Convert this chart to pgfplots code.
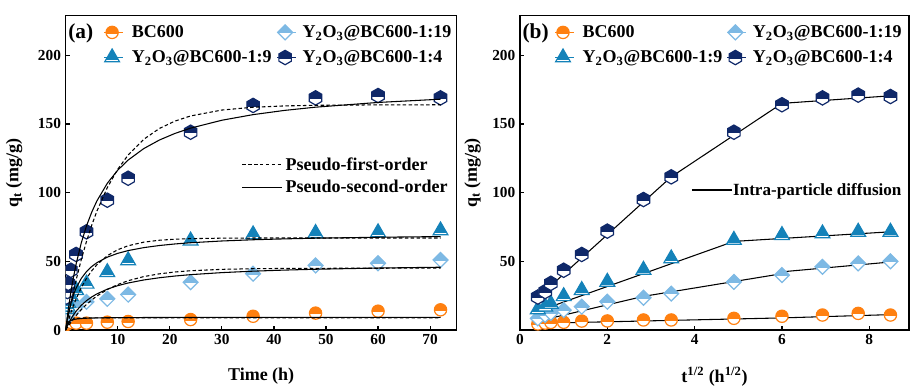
\documentclass[border=0pt]{standalone}
\usepackage{fontspec}
\setmainfont{Liberation Serif}
\usepackage{pgfplots}
\pgfplotsset{compat=1.18}
\definecolor{corange}{RGB}{255,128,16}
\definecolor{clight}{RGB}{125,185,228}
\definecolor{cmed}{RGB}{20,130,185}
\definecolor{cdark}{RGB}{15,40,105}
\newcommand\halfmark[2]{%
  \pgfscope\pgfsetfillcolor{white}#1\pgfusepath{fill}\endpgfscope
  \pgfscope\pgfpathrectangle{\pgfpoint{-2\pgfplotmarksize}{#2\pgfplotmarksize}}{\pgfpoint{4\pgfplotmarksize}{3\pgfplotmarksize}}\pgfusepath{clip}#1\pgfusepath{fill}\endpgfscope
  #1\pgfusepath{stroke}}
\newcommand\hexpath{\pgfpathmoveto{\pgfpointpolar{90}{\pgfplotmarksize}}\pgfpathlineto{\pgfpointpolar{150}{\pgfplotmarksize}}\pgfpathlineto{\pgfpointpolar{210}{\pgfplotmarksize}}\pgfpathlineto{\pgfpointpolar{270}{\pgfplotmarksize}}\pgfpathlineto{\pgfpointpolar{330}{\pgfplotmarksize}}\pgfpathlineto{\pgfpointpolar{30}{\pgfplotmarksize}}\pgfpathclose}
\newcommand\tripath{\pgfpathmoveto{\pgfpointpolar{90}{\pgfplotmarksize}}\pgfpathlineto{\pgfpointpolar{210}{\pgfplotmarksize}}\pgfpathlineto{\pgfpointpolar{330}{\pgfplotmarksize}}\pgfpathclose}
\newcommand\diapath{\pgfpathmoveto{\pgfpointpolar{90}{\pgfplotmarksize}}\pgfpathlineto{\pgfpointpolar{180}{\pgfplotmarksize}}\pgfpathlineto{\pgfpointpolar{270}{\pgfplotmarksize}}\pgfpathlineto{\pgfpointpolar{0}{\pgfplotmarksize}}\pgfpathclose}
\pgfdeclareplotmark{hcirc}{\halfmark{\pgfpathcircle{\pgfpointorigin}{\pgfplotmarksize}}{-0.1}}
\pgfdeclareplotmark{hhex}{\halfmark{\hexpath}{-0.1}}
\pgfdeclareplotmark{htri}{\halfmark{\tripath}{-0.25}}
\pgfdeclareplotmark{hdia}{\halfmark{\diapath}{-0.05}}
\pgfplotsset{
  mystyle/.style={scale only axis, anchor=south west, ymin=0, ymax=229,
    tick align=inside, xtick pos=bottom, ytick pos=left, major tick length=3pt,
    axis line style={line width=1pt}, every tick/.style={black, line width=0.9pt},
    ticklabel style={font=\fontsize{11.5}{12}\selectfont\bfseries},
    /pgf/number format/assume math mode=true,
    label style={font=\fontsize{13.5}{14}\selectfont\bfseries},
    legend style={draw=none, fill=none, font=\fontsize{13.5}{14}\selectfont\bfseries, inner sep=0pt, row sep=0pt},
    legend cell align=left},
  markleg/.style={legend image code/.code={\path (-6pt,0pt) -- (8pt,0pt); \draw[##1] plot coordinates {(0pt,0pt)};}},
  pO/.style={only marks, mark=hcirc, mark size=4.6pt, color=corange, line width=0.9pt},
  pL/.style={only marks, mark=hdia, mark size=5.6pt, color=clight, line width=0.9pt},
  pM/.style={only marks, mark=htri, mark size=6.4pt, color=cmed, line width=0.9pt},
  pD/.style={only marks, mark=hhex, mark size=5.4pt, color=cdark, line width=0.9pt},
  fitA/.style={black, line width=0.8pt, no marks, dash pattern=on 2.6pt off 1.8pt},
  fitB/.style={black, line width=0.8pt, no marks},
}
\begin{document}
\begin{tikzpicture}
\path[use as bounding box] (0,0) rectangle (682.5pt,289.5pt);
% ---------- panel (a)
\begin{axis}[mystyle, markleg, at={(49.25pt,42pt)}, width=293.25pt, height=235.9pt,
  xmin=0, xmax=75.1, xtick={10,20,...,70}, ytick={0,50,...,200},
  clip marker paths=true,
  xlabel={Time (h)}, ylabel={q\textsubscript{t} (mg/g)},
  xlabel style={at={(axis description cs:0.5,-0.146)}, anchor=center},
  ylabel style={at={(axis description cs:-0.132,0.5)}, anchor=center},
  legend columns=2, legend style={at={(rel axis cs:0.0745,1.017)}, anchor=north west, row sep=-6pt, /tikz/every even column/.append style={column sep=-3pt}}]
\addlegendimage{pO}\addlegendentry{BC600}
\addlegendimage{pL}\addlegendentry{Y\textsubscript{2}O\textsubscript{3}@BC600-1:19}
\addlegendimage{pM}\addlegendentry{Y\textsubscript{2}O\textsubscript{3}@BC600-1:9}
\addlegendimage{pD}\addlegendentry{Y\textsubscript{2}O\textsubscript{3}@BC600-1:4}
\addplot[pO, forget plot] coordinates {(0.167,4)(0.333,4.8)(0.5,5)(1,5.5)(2,5)(4,5)(8,5.7)(12,6.2)(24,7.6)(36,10)(48,12.3)(60,13.7)(72,14.7)};
\addplot[pL, forget plot] coordinates {(0.167,8.5)(0.333,11)(0.5,12.5)(1,14.5)(2,17)(4,20.5)(8,22.7)(12,25.8)(24,34.8)(36,41)(48,47)(60,48.6)(72,51)};
\addplot[pM, forget plot] coordinates {(0.167,15)(0.333,17)(0.5,19.5)(1,24.5)(2,29)(4,33.6)(8,42)(12,50.6)(24,65)(36,69.5)(48,70.5)(60,71)(72,72.4)};
\addplot[pD, forget plot] coordinates {(0.167,24)(0.333,28)(0.5,34)(1,43.5)(2,55)(4,71.5)(8,94.5)(12,110.5)(24,144)(36,163.5)(48,169)(60,170.7)(72,169)};
% fits
\addplot[fitA, forget plot] coordinates {(0,0)(0.25,5.05)(0.5,9.94)(1,19.27)(1.5,28.04)(2,36.28)(3,51.28)(4,64.53)(5,76.21)(6,86.53)(8,103.67)(10,117.01)(12,127.41)(15,138.85)(18,146.71)(21,152.12)(24,155.84)(30,160.14)(36,162.18)(42,163.14)(48,163.59)(60,163.91)(72,163.98)};
\addplot[fitB, forget plot] coordinates {(0,0)(0.25,7.79)(0.5,14.94)(1,27.61)(1.5,38.48)(2,47.91)(3,63.47)(4,75.77)(5,85.74)(6,93.98)(8,106.82)(10,116.36)(12,123.72)(15,132.08)(18,138.31)(21,143.13)(24,146.97)(30,152.72)(36,156.80)(42,159.86)(48,162.23)(60,165.67)(72,168.04)};
\addplot[fitA, forget plot] coordinates {(0,0)(0.25,3.36)(0.5,6.56)(1,12.47)(1.5,17.81)(2,22.62)(3,30.89)(4,37.61)(5,43.08)(6,47.54)(8,54.11)(10,58.46)(12,61.34)(15,63.95)(18,65.36)(21,66.11)(24,66.52)(30,66.86)(36,66.96)(48,67.0)(72,67.0)};
\addplot[fitB, forget plot] coordinates {(0,0)(0.25,6.12)(0.5,11.26)(1,19.41)(1.5,25.60)(2,30.44)(3,37.56)(4,42.52)(5,46.19)(6,49.01)(8,53.05)(10,55.81)(12,57.82)(15,59.98)(18,61.51)(21,62.65)(24,63.53)(30,64.81)(36,65.70)(42,66.34)(48,66.84)(60,67.54)(72,68.01)};
\addplot[fitA, forget plot] coordinates {(0,0)(0.25,1.47)(0.5,2.89)(1,5.60)(1.5,8.14)(2,10.51)(3,14.81)(4,18.57)(5,21.86)(6,24.74)(8,29.47)(10,33.10)(12,35.88)(15,38.88)(18,40.89)(21,42.24)(24,43.15)(30,44.17)(36,44.62)(42,44.83)(48,44.92)(60,44.98)(72,45.0)};
\addplot[fitB, forget plot] coordinates {(0,0)(0.25,2.26)(0.5,4.31)(1,7.93)(1.5,11.00)(2,13.65)(3,17.97)(4,21.35)(5,24.06)(6,26.29)(8,29.74)(10,32.28)(12,34.22)(15,36.42)(18,38.05)(21,39.30)(24,40.30)(30,41.78)(36,42.83)(42,43.62)(48,44.23)(60,45.11)(72,45.71)};
\addplot[fitA, forget plot] coordinates {(0,0)(0.25,2.75)(0.5,4.64)(1,6.84)(1.5,7.87)(2,8.36)(3,8.70)(4,8.78)(6,8.8)(72,8.8)};
\addplot[fitB, forget plot] coordinates {(0,0)(0.25,3.99)(0.5,5.58)(1,6.98)(1.5,7.61)(2,7.97)(3,8.37)(4,8.58)(6,8.81)(8,8.93)(12,9.05)(24,9.17)(48,9.24)(72,9.26)};
\node[anchor=west, font=\fontsize{16}{16}\selectfont\bfseries, inner sep=0pt] at (rel axis cs:0.006,0.944) {(a)};
\end{axis}
\begin{axis}[mystyle, at={(49.25pt,42pt)}, width=293.25pt, height=235.9pt,
  xmin=0, xmax=75.1, hide axis,
  legend style={at={(rel axis cs:0.45,0.558)}, anchor=north west, row sep=2pt},
  legend image code/.code={\draw[#1] (0pt,0pt) -- (30pt,0pt);}]
\addlegendimage{fitA}\addlegendentry{Pseudo-first-order}
\addlegendimage{fitB}\addlegendentry{Pseudo-second-order}
\end{axis}
% ---------- panel (b)
\begin{axis}[mystyle, markleg, at={(390pt,42pt)}, width=291.75pt, height=235.9pt,
  xmin=0, xmax=8.91, xtick={0,2,4,6,8}, ytick={50,100,150,200},
  xlabel={t\textsuperscript{1/2} (h\textsuperscript{1/2})}, ylabel={q\textsubscript{t} (mg/g)},
  xlabel style={at={(axis description cs:0.5,-0.148)}, anchor=center},
  ylabel style={at={(axis description cs:-0.122,0.5)}, anchor=center},
  legend columns=2, legend style={at={(rel axis cs:0.066,1.017)}, anchor=north west, row sep=-6pt, /tikz/every even column/.append style={column sep=-3.5pt}}]
\addlegendimage{pO}\addlegendentry{BC600}
\addlegendimage{pL}\addlegendentry{Y\textsubscript{2}O\textsubscript{3}@BC600-1:19}
\addlegendimage{pM}\addlegendentry{Y\textsubscript{2}O\textsubscript{3}@BC600-1:9}
\addlegendimage{pD}\addlegendentry{Y\textsubscript{2}O\textsubscript{3}@BC600-1:4}
\addplot[pO, forget plot] coordinates {(0.408,4.4)(0.577,5)(0.707,5.5)(1,5.6)(1.414,6.5)(2,6.6)(2.828,7.3)(3.464,7.3)(4.899,8.5)(6,10)(6.928,10.9)(7.746,12.1)(8.485,10.9)};
\addplot[pL, forget plot] coordinates {(0.408,8.5)(0.577,11)(0.707,12.5)(1,14.5)(1.414,17)(2,20.6)(2.828,23.5)(3.464,26.5)(4.899,35)(6,40)(6.928,46)(7.746,48.5)(8.485,50)};
\addplot[pM, forget plot] coordinates {(0.408,15)(0.577,17)(0.707,19)(1,24.5)(1.414,29)(2,35)(2.828,43.7)(3.464,52)(4.899,65.5)(6,69)(6.928,70.2)(7.746,71.4)(8.485,71.4)};
\addplot[pD, forget plot] coordinates {(0.408,24)(0.577,28)(0.707,34)(1,43.5)(1.414,55)(2,72)(2.828,95)(3.464,111.5)(4.899,144)(6,164)(6.928,169)(7.746,171)(8.485,170)};
\addplot[fitB, forget plot] coordinates {(0.35,22)(3.464,111.5)(6,165)(8.485,170.5)};
\addplot[fitB, forget plot] coordinates {(0.35,13)(4.899,64.5)(8.485,71.5)};
\addplot[fitB, forget plot] coordinates {(0.35,6)(2.828,24.5)(6,41)};
\addplot[fitB, forget plot] coordinates {(6.05,42.5)(8.485,49.5)};
\addplot[fitB, forget plot] coordinates {(0.35,4.8)(6,8.8)(8.485,11.2)};
\node[anchor=west, font=\fontsize{16}{16}\selectfont\bfseries, inner sep=0pt] at (rel axis cs:0.006,0.944) {(b)};
\end{axis}
\begin{axis}[mystyle, at={(390pt,42pt)}, width=291.75pt, height=235.9pt,
  xmin=0, xmax=8.91, hide axis,
  legend style={at={(rel axis cs:0.44,0.445)}, anchor=west, font=\fontsize{12.8}{13}\selectfont\bfseries, nodes={inner xsep=0.5pt}},
  legend image code/.code={\draw[#1] (0pt,0pt) -- (30pt,0pt);}]
\addlegendimage{fitB}\addlegendentry{Intra-particle diffusion}
\end{axis}
\end{tikzpicture}
\end{document}
